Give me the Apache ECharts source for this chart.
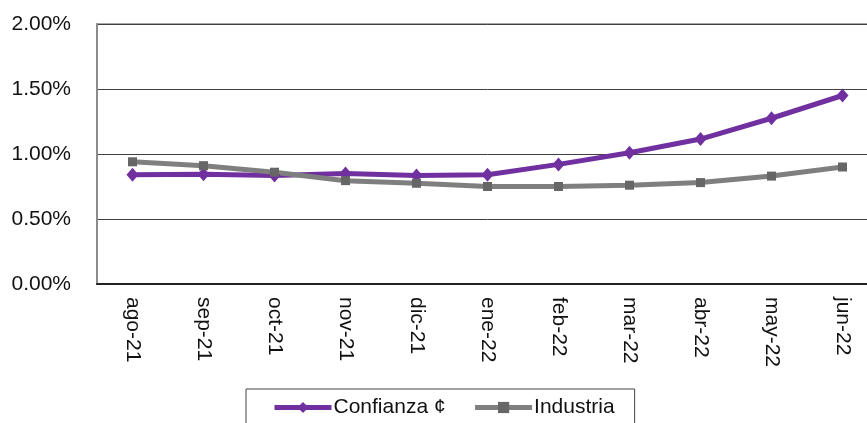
<!DOCTYPE html>
<html>
<head>
<meta charset="utf-8">
<script src="https://cdn.jsdelivr.net/npm/echarts@6/dist/echarts.min.js"></script>
<style>
  html, body { margin: 0; padding: 0; background: #fff; overflow: hidden; }
  /* the plot runs past the right edge of the picture */
  #chart { width: 880px; height: 423px; }
</style>
</head>
<body>
<div id="chart"></div>
<script>
// months shown on the x axis
let months = ['ago-21', 'sep-21', 'oct-21', 'nov-21', 'dic-21', 'ene-22',
              'feb-22', 'mar-22', 'abr-22', 'may-22', 'jun-22'];
// values in percent
let confianza = [0.84, 0.845, 0.835, 0.85, 0.835, 0.84, 0.92, 1.01, 1.115, 1.275, 1.45];
let industria = [0.94, 0.91, 0.86, 0.795, 0.775, 0.75, 0.75, 0.76, 0.78, 0.83, 0.9];
let yTicks = [0, 0.5, 1, 1.5, 2];

let myChart = echarts.init(document.getElementById('chart'));
let colors = ['#7030a0', '#7f7f7f'];
let font = 'Liberation Sans, Arial, sans-serif';

let option = {
    animation: false,
    color: colors,
    textStyle: { fontFamily: font },
    grid: {
        left: 97,
        top: 24,
        width: 781,
        height: 260,
        show: true,
        borderColor: '#8c8c8c',
        borderWidth: 1.5
    },
    xAxis: {
        type: 'category',
        data: months,
        boundaryGap: true,
        axisTick: { show: false },
        axisLine: { lineStyle: { color: '#222', width: 2 } },
        axisLabel: {
            rotate: -90,
            margin: 13,
            color: '#111',
            fontSize: 21,
            fontFamily: font
        }
    },
    yAxis: {
        type: 'value',
        min: yTicks[0],
        max: yTicks[yTicks.length - 1],
        interval: 0.5,
        axisLine: { show: true, lineStyle: { color: '#8c8c8c', width: 2 } },
        axisTick: { show: false },
        axisLabel: {
            margin: 26,
            color: '#111',
            fontSize: 21,
            fontFamily: font,
            formatter: v => v.toFixed(2) + '%'
        },
        splitLine: { lineStyle: { color: '#404040', width: 1 } }
    },
    legend: {
        left: 246,
        top: 389,
        orient: 'horizontal',
        itemWidth: 57,
        itemHeight: 14,
        itemGap: 27,
        padding: [8, 20, 30, 26],
        borderColor: '#444',
        borderWidth: 1,
        lineStyle: { width: 5 },
        textStyle: { fontSize: 21, color: '#111', fontFamily: font, padding: [0, 0, 0, -3] }
    },
    series: [{
        name: 'Confianza ¢',
        type: 'line',
        data: confianza,
        symbol: 'diamond',
        symbolSize: [12, 14],
        lineStyle: { width: 5, color: colors[0] },
        itemStyle: { color: colors[0] }
    }, {
        name: 'Industria',
        type: 'line',
        data: industria,
        symbol: 'rect',
        symbolSize: 9,
        lineStyle: { width: 5, color: colors[1] },
        itemStyle: { color: '#666666' }
    }]
};
myChart.setOption(option);
</script>
</body>
</html>
